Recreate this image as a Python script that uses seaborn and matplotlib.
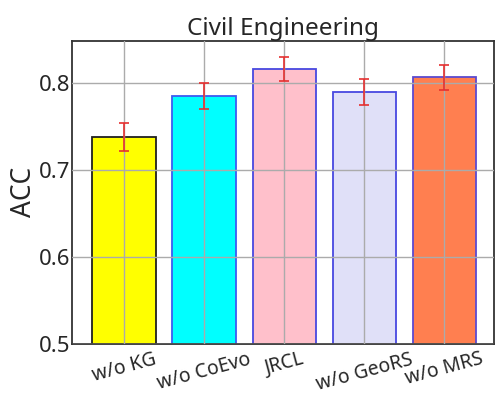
import matplotlib
matplotlib.use("Agg")
import matplotlib.pyplot as plt
import seaborn as sns
import pandas as pd

variants = ["w/o KG", "w/o CoEvo", "JRCL", "w/o GeoRS", "w/o MRS"]
acc = [0.738, 0.785, 0.816, 0.789, 0.806]
acc_err = [0.016, 0.015, 0.014, 0.015, 0.014]
bar_colors = ["#FFFF00", "#00FFFF", "#FFC0CB", "#E0E0F8", "#FF7F50"]
edge_colors = ["#202020", "#3D5BF0", "#4848E0", "#4848E0", "#5A4AD0"]

sns.set_theme(style="whitegrid")
plt.rcParams["font.family"] = ["Noto Sans", "DejaVu Sans"]

df = pd.DataFrame({"variant": variants, "acc": acc})

fig = plt.figure(figsize=(4.96, 3.97), dpi=100)
ax = fig.add_axes([0.145, 0.134, 0.851, 0.763])

sns.barplot(data=df, x="variant", y="acc", hue="variant", palette=bar_colors,
            saturation=1, legend=False, width=0.79, linewidth=1.3,
            errorbar=None, ax=ax, zorder=2)
for patch, ec in zip(ax.patches, edge_colors):
    patch.set_edgecolor(ec)
ax.errorbar(range(len(variants)), acc, yerr=acc_err, fmt="none",
            ecolor="#E53030", elinewidth=1.2, capsize=3.5, capthick=1.2, zorder=3)

ax.set_ylim(0.5, 0.848)
ax.set_xlim(-0.65, 4.62)
ax.set_yticks([0.5, 0.6, 0.7, 0.8])
ax.set_yticklabels(["0.5", "0.6", "0.7", "0.8"])
ax.set_xlabel("")
ax.set_ylabel("ACC", fontsize=19, labelpad=1)
ax.set_title("Civil Engineering", fontsize=17.5, pad=4)
ax.tick_params(axis="y", labelsize=16, pad=1, length=0)
ax.tick_params(axis="x", labelsize=14, pad=4, length=0)
for lbl in ax.get_xticklabels():
    lbl.set_rotation(15)
ax.grid(True, color="#ABABAB", linewidth=1.0, zorder=0)
ax.set_axisbelow(False)
for s in ax.spines.values():
    s.set_color("#333333")
    s.set_linewidth(1.3)

fig.savefig("out.png", dpi=100)
